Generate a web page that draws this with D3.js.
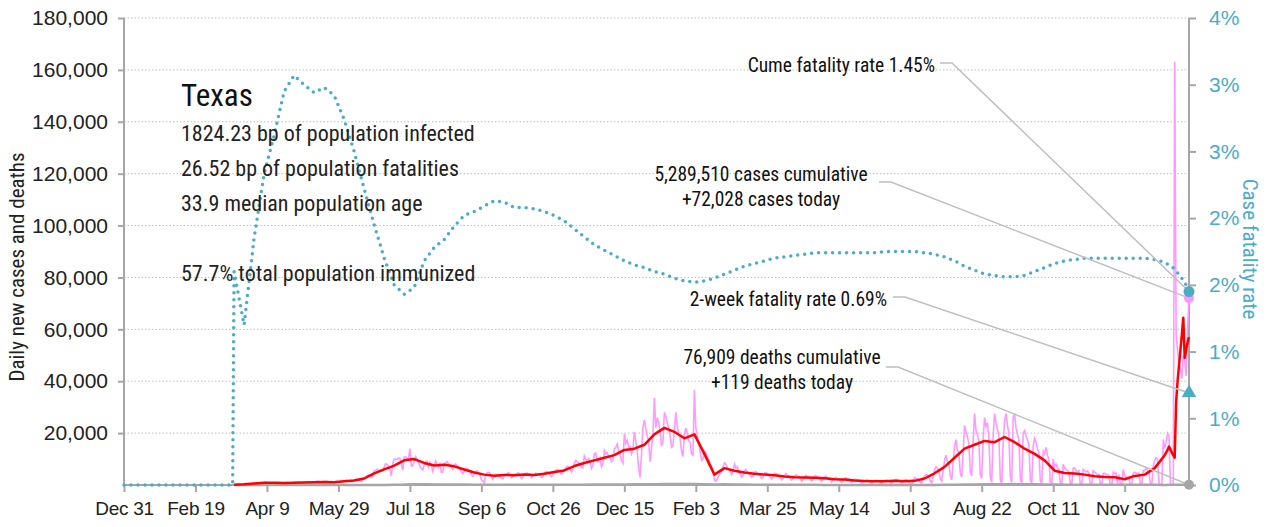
<!DOCTYPE html>
<html>
<head>
<meta charset="utf-8">
<script src="https://cdn.jsdelivr.net/npm/d3@7"></script>
<style>
  body { margin: 0; background: #fff; }
  svg { display: block; font-family: "Roboto Condensed", "Liberation Sans", sans-serif; }
</style>
</head>
<body>
<svg id="chart" width="1268" height="527"></svg>
<script>
// axis ticks
var xTickDates = ["2019-12-31", "2020-02-19", "2020-04-09", "2020-05-29", "2020-07-18", "2020-09-06",
  "2020-10-26", "2020-12-15", "2021-02-03", "2021-03-25", "2021-05-14", "2021-07-03",
  "2021-08-22", "2021-10-11", "2021-11-30"];
var casesTicks = [20000, 40000, 60000, 80000, 100000, 120000, 140000, 160000, 180000];
var rateTicks = [0, 0.005, 0.01, 0.015, 0.02, 0.025, 0.03, 0.035];
var firstDay = "2019-12-31", lastDay = "2022-01-14";

// daily new cases (thousands), one row per week, from Mar 17 2020
var casesStart = "2020-03-17";
var dailyCasesK = [
  0.02,0.03,0.05,0.05,0.1,0.1,0.15,  0.2,0.25,0.3,0.4,0.5,0.4,0.5,  0.7,0.6,0.7,0.8,0.7,0.5,0.6,
  1.0,1.1,1.0,0.9,0.8,0.6,0.7,  0.8,0.9,1.0,0.8,0.9,0.7,0.6,  0.9,0.8,1.0,0.9,0.8,0.6,0.7,
  1.0,1.1,1.0,1.2,1.1,0.8,0.9,  1.1,1.2,1.0,1.3,1.2,0.9,0.8,  1.2,1.3,1.4,1.5,1.2,0.9,1.0,
  1.4,1.3,1.5,1.1,1.0,0.8,1.3,  1.0,1.3,1.4,1.2,1.5,1.0,1.2,  1.6,1.7,1.8,1.5,1.6,1.2,1.3,
  1.9,2.1,2.3,1.9,2.0,1.4,1.9,  2.6,3.1,3.5,3.9,3.5,3.0,3.3,  5.5,5.6,6.0,5.8,5.7,5.3,5.4,
  6.9,8.1,8.0,7.2,6.0,3.4,8.3,  10.0,9.9,9.8,10.4,10.3,8.2,5.7,  10.7,10.8,10.3,10.2,14.0,7.3,7.4,
  9.3,10.9,10.1,8.8,7.3,6.4,5.8,  7.8,9.0,9.2,7.0,8.8,7.3,5.3,  7.5,9.2,7.9,6.8,8.6,4.9,5.0,
  8.2,8.5,9.0,8.3,7.5,6.8,6.0,  7.6,8.1,7.3,6.9,6.3,5.1,4.4,  5.3,6.0,6.3,5.8,5.6,4.0,3.4,
  4.3,5.2,5.4,4.9,3.9,2.1,1.5,  0.8,3.9,4.7,4.9,4.6,3.4,2.2,  3.5,4.1,4.0,3.7,3.1,2.7,2.4,
  3.8,4.2,4.4,4.8,4.0,2.8,3.1,  3.9,4.1,4.4,4.6,3.8,2.5,2.9,  4.0,4.5,4.6,4.3,4.2,2.8,3.5,
  3.9,4.6,4.1,4.4,4.2,2.9,3.1,  4.8,4.9,5.2,4.5,4.1,3.2,3.8,  5.1,5.5,6.0,5.8,5.2,4.3,4.6,
  6.0,6.5,7.2,7.0,6.3,5.0,5.9,  8.3,9.5,8.9,8.6,8.1,6.6,6.7,  11.2,9.9,9.3,10.2,9.1,6.4,7.4,
  12.0,12.3,9.2,8.9,10.4,7.0,8.2,  13.3,12.0,12.5,11.0,10.5,9.0,9.7,  13.9,14.4,15.8,13.2,11.7,9.5,8.4,
  19.7,16.0,17.3,14.6,14.9,12.0,13.5,  20.5,17.0,13.0,6.5,3.0,11.5,22.0,  25.0,22.0,19.0,17.0,9.0,14.0,19.5,
  33.5,22.0,26.0,24.0,21.0,15.0,16.5,  28.0,26.5,24.0,22.0,19.0,14.5,15.0,  21.0,28.0,22.5,20.0,18.0,13.0,11.0,
  19.5,22.0,20.0,17.0,16.5,12.0,11.5,  36.5,22.0,19.0,16.0,13.0,9.5,10.0,  13.0,12.5,11.0,10.0,8.0,7.0,6.0,
  2.0,1.5,2.5,3.5,4.5,5.0,7.0,  8.5,8.0,6.5,6.0,5.5,4.0,5.0,  8.0,6.5,7.0,5.0,4.5,3.0,3.5,
  5.5,6.0,5.0,4.5,4.0,3.0,3.5,  4.8,5.2,4.5,4.1,3.6,2.5,3.0,  4.6,4.8,4.2,3.8,3.2,2.4,2.8,
  4.5,4.4,4.2,3.6,3.0,2.0,2.6,  3.8,4.4,3.7,3.5,2.6,1.9,2.5,  3.5,3.9,3.6,3.2,2.6,1.5,2.3,
  3.2,3.7,3.4,3.3,2.4,1.6,2.2,  3.3,3.6,3.2,3.0,2.2,1.4,2.0,  3.2,3.4,2.9,2.8,2.0,1.2,1.9,
  2.6,2.9,2.5,2.3,1.7,1.0,1.6,  2.5,2.8,2.4,2.2,1.6,1.0,1.5,  2.1,2.3,2.0,1.9,1.2,0.6,1.0,
  1.3,2.0,1.9,1.8,1.2,0.5,1.3,  1.7,1.9,1.6,1.5,1.0,0.5,1.3,  1.6,1.9,1.7,1.6,1.0,0.5,1.2,
  1.8,2.2,2.0,1.8,1.1,0.6,1.6,  1.9,2.1,1.8,1.0,0.8,0.5,0.9,  2.8,2.5,2.4,2.2,1.0,0.7,2.6,
  3.5,4.0,3.8,3.2,1.5,0.8,3.6,  6.0,7.0,6.5,5.5,2.5,1.5,5.5,  9.5,11.5,9.0,8.5,3.5,2.0,8.5,
  15.0,17.5,13.5,12.5,4.5,3.0,12.5,  23.0,20.5,18.5,16.0,5.0,3.5,17.0,  27.5,21.0,19.5,17.0,4.0,2.5,18.0,
  26.0,22.5,24.0,18.5,3.0,1.0,19.0,  27.5,24.0,21.5,19.0,2.0,0.5,16.0,  25.0,27.5,23.0,20.0,3.0,1.0,26.0,
  27.5,22.0,19.5,17.5,2.5,0.5,20.0,  21.0,19.0,17.5,15.5,2.0,0.5,15.0,  18.0,16.5,14.0,12.5,1.5,0.5,13.0,
  12.0,14.5,11.5,10.0,1.0,0.3,10.0,  7.0,8.0,6.5,6.0,0.5,0.2,8.0,  6.5,6.0,5.5,5.0,0.5,0.2,6.5,
  6.5,5.5,5.0,5.5,0.3,0.2,6.0,  5.5,5.0,5.5,4.5,0.3,0.1,5.5,  5.0,4.5,4.0,4.0,0.2,0.1,4.5,
  4.5,4.0,4.0,3.5,0.2,0.1,5.0,  4.5,4.5,0.5,4.0,0.2,0.1,6.0,  3.5,3.0,3.0,2.5,0.2,0.1,4.5,
  5.0,4.5,4.5,4.5,0.3,0.2,5.5,  5.5,6.5,5.5,5.0,0.3,0.2,7.5,  9.5,10.5,10.0,0.5,0.3,0.2,17.5,
  14.0,16.5,20.0,19.0,0.3,0.2,0.3,  163,58,52,47,45,41,50,  48,42,60,72
];

// 7-day average of new cases (thousands), weekly from Mar 17 2020, then daily from Dec 29 2021
var weeklyAvgK = [
  0.1,0.3,0.6,0.9,0.9,0.8,0.9,1.0,1.1,1.2,1.1,1.4,1.7,2.5,4.5,6.0,7.5,9.5,10.0,8.5,
  7.5,7.8,7.2,6.0,4.8,4.0,3.6,3.9,3.8,4.0,3.9,4.3,5.0,5.6,7.3,8.5,9.5,10.5,11.5,13.5,
  14.0,15.5,19.5,22.0,20.5,18.0,19.5,12.0,4.0,6.5,5.5,4.8,4.3,4.0,3.8,3.3,3.0,2.9,2.8,2.6,
  2.2,2.1,1.7,1.5,1.4,1.4,1.6,1.4,1.6,2.5,4.5,7.0,10.5,14.0,15.5,17.0,16.5,18.5,16.5,14.0,
  12.0,9.5,5.5,4.6,4.4,4.0,3.4,3.1,3.0,2.2,3.5,4.0,6.5,11.5
];
var recentAvgStart = "2021-12-29";
var recentAvgK = [12.5,13.5,14.8,13.8,12.5,11.5,10.5,32,40,46,52,58,64.5,49,52,55,57];

// daily deaths, weekly from Mar 17 2020
var weeklyDeaths = [
  2,5,15,25,30,35,35,35,30,25,25,25,25,30,40,45,90,150,300,250,
  220,200,200,160,130,100,100,90,80,80,70,70,80,90,110,130,150,170,200,230,
  250,280,300,350,370,360,340,300,150,250,220,180,140,120,100,80,70,55,50,45,
  40,35,30,30,25,25,25,25,25,30,45,60,100,150,200,250,300,320,340,300,
  250,200,150,120,100,80,70,60,55,50,50,55,50,45,60,100
];

// cumulative case fatality rate (%), zero before Mar 17 2020, then weekly
var cfrZeroDays = ["2019-12-31", "2020-03-16"];
var weeklyCfr = [
  1.60,1.20,1.85,2.33,2.62,2.95,3.07,3.00,2.94,2.98,2.92,2.74,2.50,2.22,1.95,1.70,1.50,1.43,1.48,1.68,
  1.78,1.84,1.94,2.02,2.05,2.09,2.13,2.12,2.08,2.08,2.07,2.05,2.02,1.98,1.92,1.86,1.80,1.76,1.72,1.68,
  1.65,1.63,1.60,1.58,1.55,1.53,1.52,1.53,1.55,1.58,1.61,1.64,1.66,1.68,1.70,1.71,1.72,1.73,1.74,1.74,
  1.74,1.74,1.74,1.74,1.74,1.75,1.75,1.75,1.75,1.74,1.73,1.71,1.68,1.64,1.61,1.58,1.57,1.56,1.56,1.57,
  1.60,1.63,1.66,1.68,1.69,1.70,1.70,1.70,1.70,1.70,1.70,1.70,1.69,1.67,1.62,1.52
];

// latest values for the call-outs
var cumeCfr = 1.45, twoWeekCfr = 0.69;
var casesCumulative = 5289510, casesToday = 72028;
var deathsCumulative = 76909, deathsToday = 119;
var infoLines = ["1824.23 bp of population infected", "26.52 bp of population fatalities",
  "33.9 median population age", "", "57.7% total population immunized"];

var parse = d3.timeParse("%Y-%m-%d");
function series(start, values, step, mult) {
  var s = parse(start);
  return values.map(function(v, i) { return {date: d3.timeDay.offset(s, i * step), value: v * mult}; });
}

var cases = series(casesStart, dailyCasesK, 1, 1000);
var avg = series(casesStart, weeklyAvgK, 7, 1000).concat(series(recentAvgStart, recentAvgK, 1, 1000));
var deaths = series(casesStart, weeklyDeaths, 7, 1);
var cfr = cfrZeroDays.map(function(d) { return {date: parse(d), value: 0}; })
  .concat(series(casesStart, weeklyCfr, 7, 0.01));
cfr.push({date: parse(lastDay), value: cumeCfr / 100});

var plotL = 124, plotR = 1189, plotT = 18, plotB = 485;
var svg = d3.select("#chart");
var x = d3.scaleTime().domain([parse(firstDay), parse(lastDay)]).range([plotL, plotR]);
var y = d3.scaleLinear().domain([0, 180000]).range([plotB, plotT]);
var yR = d3.scaleLinear().domain([0, 0.035]).range([plotB, plotT]);

var blue = "#4bacc6", pink = "#ff99ff", grey = "#a6a6a6";

// gridlines
svg.append("g").selectAll("line").data(casesTicks).join("line")
  .attr("x1", plotL).attr("x2", plotR)
  .attr("y1", function(d) { return y(d); }).attr("y2", function(d) { return y(d); })
  .attr("stroke", "#bfbfbf").attr("stroke-width", 1).attr("stroke-dasharray", "1.5,2");

// left axis
var gl = svg.append("g").attr("transform", "translate(" + plotL + ",0)")
  .call(d3.axisLeft(y).tickValues(casesTicks).tickFormat(d3.format(",")).tickSize(6).tickPadding(10));
gl.select(".domain").remove();
gl.append("line").attr("y1", plotT).attr("y2", plotB).attr("stroke", grey).attr("stroke-width", 2);

// right axis
var gr = svg.append("g").attr("transform", "translate(" + plotR + ",0)")
  .call(d3.axisRight(yR).tickValues(rateTicks).tickFormat(function(d) { return Math.round(d * 100) + "%"; })
    .tickSize(7).tickPadding(13));
gr.select(".domain").remove();
gr.append("line").attr("y1", plotT).attr("y2", plotB).attr("stroke", grey).attr("stroke-width", 2);

// x axis
var gx = svg.append("g").attr("transform", "translate(0," + plotB + ")")
  .call(d3.axisBottom(x).tickValues(xTickDates.map(parse)).tickFormat(d3.timeFormat("%b %-d"))
    .tickSize(7).tickPadding(10));
gx.select(".domain").remove();
gx.append("line").attr("x1", plotL).attr("x2", plotR).attr("stroke", grey).attr("stroke-width", 2);

svg.selectAll(".tick line").attr("stroke", grey).attr("stroke-width", 2);
gl.selectAll(".tick text").attr("font-size", 21).attr("fill", "#222").attr("font-family", null);
gx.selectAll(".tick text").attr("font-size", 19).attr("letter-spacing", -0.3).attr("fill", "#222").attr("font-family", null);
gr.selectAll(".tick text").attr("font-size", 21).attr("fill", blue).attr("font-family", null);

// lines
var lineL = d3.line().x(function(d) { return x(d.date); }).y(function(d) { return y(d.value); });
var lineR = d3.line().x(function(d) { return x(d.date); }).y(function(d) { return yR(d.value); });

svg.append("path").datum(cases).attr("d", lineL).attr("fill", "none")
  .attr("stroke", pink).attr("stroke-width", 1.6);
svg.append("path").datum(deaths).attr("d", lineL).attr("fill", "none")
  .attr("stroke", grey).attr("stroke-width", 2.5);
svg.append("path").datum(avg).attr("d", lineL).attr("fill", "none")
  .attr("stroke", "#ff0000").attr("stroke-width", 2.5).attr("stroke-linejoin", "round");
svg.append("path").datum(cfr).attr("d", lineR).attr("fill", "none")
  .attr("stroke", blue).attr("stroke-width", 3.5).attr("stroke-linecap", "round")
  .attr("stroke-dasharray", "0,7");

// axis titles
svg.append("text").attr("transform", "translate(24,267) rotate(-90)")
  .attr("text-anchor", "middle").attr("font-size", 21).attr("fill", "#222")
  .text("Daily new cases and deaths");
svg.append("text").attr("transform", "translate(1243,249) rotate(90)")
  .attr("text-anchor", "middle").attr("font-size", 21).attr("fill", blue)
  .text("Case fatality rate");

// info block
svg.append("text").attr("x", 181).attr("y", 106).attr("font-size", 31).attr("fill", "#111").text("Texas");
svg.append("g").selectAll("text").data(infoLines).join("text")
  .attr("x", 181).attr("y", function(d, i) { return 141 + i * 35; })
  .attr("font-size", 22).attr("fill", "#222").text(function(d) { return d; });

// call-outs
var endX = x(parse(lastDay));
var fmt = d3.format(",");
var callouts = [
  {lines: ["Cume fatality rate " + cumeCfr.toFixed(2) + "%"], tx: 935, ty: 72, anchor: "end",
   from: [940, 63], to: [endX, yR(cumeCfr / 100)]},
  {lines: [fmt(casesCumulative) + " cases cumulative", "+" + fmt(casesToday) + " cases today"],
   tx: 761, ty: 181, anchor: "middle", from: [879, 182], to: [endX, y(casesToday)]},
  {lines: ["2-week fatality rate " + twoWeekCfr.toFixed(2) + "%"], tx: 887, ty: 306, anchor: "end",
   from: [893, 297], to: [endX, yR(twoWeekCfr / 100)]},
  {lines: [fmt(deathsCumulative) + " deaths cumulative", "+" + fmt(deathsToday) + " deaths today"],
   tx: 782, ty: 364, anchor: "middle", from: [886, 367], to: [endX, y(deathsToday)]}
];
callouts.forEach(function(c) {
  svg.append("polyline")
    .attr("points", [c.from, [c.from[0] + 12, c.from[1]], c.to].map(function(p) { return p.join(","); }).join(" "))
    .attr("fill", "none").attr("stroke", "#bfbfbf").attr("stroke-width", 1.5);
  c.lines.forEach(function(t, i) {
    svg.append("text").attr("x", c.tx).attr("y", c.ty + i * 25).attr("text-anchor", c.anchor)
      .attr("font-size", 19.5).attr("fill", "#111").text(t);
  });
});

// end markers
svg.append("circle").attr("cx", endX).attr("cy", y(deathsToday)).attr("r", 5).attr("fill", grey);
svg.append("path").attr("d", d3.symbol(d3.symbolTriangle, 90)())
  .attr("transform", "translate(" + endX + "," + yR(twoWeekCfr / 100) + ")").attr("fill", blue);
svg.append("circle").attr("cx", endX).attr("cy", y(casesToday)).attr("r", 5).attr("fill", pink);
svg.append("circle").attr("cx", endX).attr("cy", yR(cumeCfr / 100)).attr("r", 5.5).attr("fill", blue);
</script>
</body>
</html>
